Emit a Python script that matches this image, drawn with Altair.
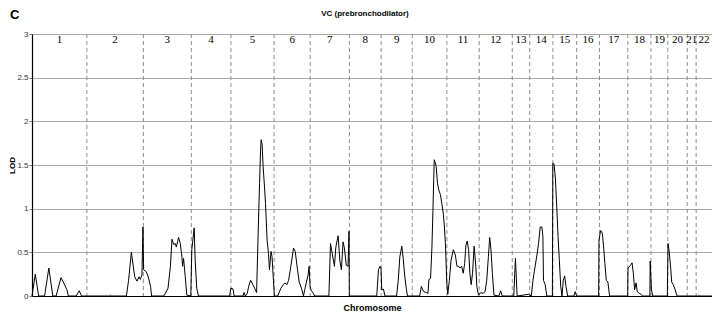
import altair as alt
import pandas as pd
import numpy as np

# Chromosome names and (estimated) lengths in cM, read off the panel widths
chrom_names = [str(i) for i in range(1, 23)]
chrom_lengths = [277, 285, 242, 200, 218, 182, 198, 160, 157, 175, 163, 167,
                 88, 117, 120, 115, 143, 117, 85, 98, 45, 80]

# Genome-wide position (cM) of each point of the LOD curve
pos = [0, 16.5, 33.5, 63.5, 85, 105, 121.5, 146.5, 160, 176.5, 183.5, 223.5, 238.5, 250,
       390, 396.5, 402.5, 476.5, 487.5, 501.5, 518.5, 530, 540, 546.5, 555, 560, 563.5, 576.5,
       586.5, 598.5, 603.5, 665, 673.5, 686.5, 698.5, 706.5, 715, 723.5, 728.5, 740, 748.5,
       756.5, 760, 765, 773.5, 781.5, 801.5, 806.5, 818.5, 823.5, 831.5, 840, 997.5, 1003.5,
       1015, 1020, 1065, 1070, 1076.5, 1086.5, 1093.5, 1103.5, 1115, 1123.5, 1133.5, 1140,
       1148.5, 1153.5, 1156.5, 1161.5, 1166.5, 1173.5, 1178.5, 1186.5, 1193.5, 1198.5, 1206.5,
       1211.5, 1218.5, 1223.5, 1240, 1256.5, 1268.5, 1276.5, 1286.5, 1295, 1306.5, 1320,
       1328.5, 1340, 1348.5, 1360, 1370, 1376.5, 1385, 1393.5, 1398.5, 1403.5, 1410, 1420,
       1426.5, 1498.5, 1506.5, 1515, 1526.5, 1533.5, 1545, 1553.5, 1561.5, 1570, 1576.5,
       1586.5, 1595, 1600, 1601.5, 1740, 1748.5, 1756.5, 1761.5, 1765, 1773.5, 1781.5, 1840,
       1848.5, 1856.5, 1866.5, 1873.5, 1881.5, 1890, 1895, 1956.5, 1965, 1976.5, 1990, 1998.5,
       2003.5, 2011.5, 2018.5, 2023.5, 2030, 2035, 2040, 2046.5, 2053.5, 2061.5, 2068.5,
       2076.5, 2081.5, 2086.5, 2093.5, 2098.5, 2106.5, 2115, 2126.5, 2136.5, 2145, 2153.5,
       2160, 2168.5, 2176.5, 2183.5, 2190, 2196.5, 2203.5, 2210, 2216.5, 2223.5, 2231.5, 2240,
       2245, 2253.5, 2265, 2276.5, 2286.5, 2295, 2303.5, 2310, 2316.5, 2323.5, 2331.5, 2356.5,
       2365, 2373.5, 2431.5, 2440, 2448.5, 2506.5, 2520, 2528.5, 2535, 2548.5, 2556.5, 2565,
       2573.5, 2578.5, 2581.5, 2590, 2598.5, 2626.5, 2628.5, 2635, 2641.5, 2648.5, 2655,
       2661.5, 2668.5, 2675, 2681.5, 2688.5, 2695, 2703.5, 2735, 2741.5, 2748.5, 2860, 2861.5,
       2870, 2878.5, 2885, 2891.5, 2898.5, 2906.5, 2915, 3006.5, 3008, 3020, 3028.5, 3035,
       3041.5, 3048.5, 3055, 3065, 3073.5, 3081.5, 3118.5, 3120, 3126.5, 3133.5, 3206.5, 3210,
       3215, 3223.5, 3228.5, 3236.5, 3245, 3251.5, 3256.5, 3360, 3365, 3370, 3431.5]

lod = [0, 0.25, 0, 0, 0.32, 0, 0, 0.21, 0.15, 0.07, 0, 0, 0.06, 0,
       0, 0.01, 0, 0, 0.18, 0.50, 0.22, 0.17, 0.22, 0.19, 0.24, 0.79, 0.30, 0.28,
       0.22, 0.11, 0, 0, 0.03, 0.09, 0.34, 0.65, 0.59, 0.60, 0.56, 0.67, 0.60,
       0.45, 0.34, 0.43, 0.22, 0.01, 0, 0.53, 0.78, 0.41, 0.09, 0, 0, 0.09,
       0.08, 0, 0, 0.04, 0, 0.03, 0.11, 0.18, 0.13, 0.09, 0.04, 0.60,
       1.29, 1.67, 1.79, 1.73, 1.48, 1.25, 1.06, 0.64, 0.49, 0.30, 0.51,
       0.45, 0.18, 0, 0, 0.09, 0.13, 0.15, 0.13, 0.18, 0.34, 0.55,
       0.51, 0.30, 0.16, 0.09, 0, 0.07, 0.16, 0.24, 0.34, 0.11, 0.06, 0.03,
       0, 0, 0.60, 0.49, 0.34, 0.56, 0.69, 0.41, 0.30, 0.62, 0.55,
       0.35, 0.34, 0.74, 0, 0, 0.30, 0.34, 0.32, 0.07, 0.08, 0, 0,
       0.18, 0.45, 0.57, 0.43, 0.22, 0.07, 0, 0, 0.11, 0.05, 0.04, 0.03,
       0.19, 0.20, 0.56, 0.98, 1.56, 1.53, 1.48, 1.29, 1.21, 1.16, 1.06,
       0.93, 0.79, 0.60, 0.15, 0.02, 0.18, 0.41, 0.53, 0.47, 0.34, 0.34,
       0.32, 0.34, 0.26, 0.37, 0.58, 0.63, 0.53, 0.26, 0.13, 0.26, 0.57, 0.34,
       0.11, 0.01, 0.04, 0.03, 0.05, 0.18, 0.45, 0.67, 0.53, 0.26, 0.01, 0,
       0.06, 0, 0, 0.43, 0, 0.02, 0, 0.18, 0.28, 0.47, 0.60, 0.79,
       0.79, 0.68, 0.18, 0.13, 0, 0, 1.52, 1.51, 1.35, 1.02, 0.68,
       0.41, 0.11, 0, 0.18, 0.23, 0.11, 0, 0, 0.05, 0, 0, 0.64,
       0.75, 0.72, 0.56, 0.37, 0.18, 0.16, 0, 0, 0.32, 0.35, 0.38, 0.26,
       0.07, 0.15, 0.05, 0.03, 0.02, 0, 0, 0.40, 0.07, 0, 0, 0.60,
       0.53, 0.32, 0.16, 0.13, 0.08, 0.03, 0, 0, 0.01, 0, 0]

y_ticks = [0, 0.5, 1, 1.5, 2, 2.5, 3]

starts = np.concatenate([[0], np.cumsum(chrom_lengths)[:-1]])
ends = np.cumsum(chrom_lengths)
total = float(ends[-1])

chrom_df = pd.DataFrame({
    "chrom": chrom_names,
    "start": starts,
    "mid": (starts + ends) / 2.0,
})
curve_df = pd.DataFrame({"pos": pos, "lod": lod})

x_scale = alt.Scale(domain=[0, total], nice=False, zero=False)
y_scale = alt.Scale(domain=[0, 3], nice=False)

base_x = alt.X("pos:Q", scale=x_scale,
               axis=alt.Axis(title="Chromosome", labels=False, ticks=False, grid=False,
                             domainColor="#000000", domainWidth=1.2,
                             titleFont="Liberation Sans", titleFontSize=9,
                             titleFontWeight="bold", titlePadding=7, titleColor="#000000"))
base_y = alt.Y("lod:Q", scale=y_scale,
               axis=alt.Axis(title="LOD", values=y_ticks, grid=True, gridColor="#a8a8a8",
                             gridWidth=1, tickSize=3, tickColor="#777777", labelPadding=1,
                             labelExpr="'' + datum.value",
                             labelFont="Liberation Sans", labelFontSize=8,
                             labelColor="#333333", domainColor="#000000", domainWidth=1.2,
                             titleFont="Liberation Sans", titleFontSize=8,
                             titleFontWeight="bold", titleX=-16, titleBaseline="bottom",
                             titleColor="#000000"))

line = alt.Chart(curve_df).mark_line(color="#000000", strokeWidth=1).encode(
    x=base_x, y=base_y
)

seps = alt.Chart(chrom_df[chrom_df["chrom"] != "1"]).mark_rule(
    color="#8c8c8c", strokeDash=[4, 3], strokeWidth=1
).encode(x=alt.X("start:Q", scale=x_scale))

labels = alt.Chart(chrom_df).mark_text(
    font="Liberation Serif", fontSize=11, baseline="middle", align="center", color="#000000"
).encode(
    x=alt.X("mid:Q", scale=x_scale),
    y=alt.datum(2.93, scale=y_scale),
    text="chrom:N",
)

title_df = pd.DataFrame({"t": ["VC (prebronchodilator)"]})
title = alt.Chart(title_df).mark_text(
    font="Liberation Sans", fontSize=8, fontWeight="bold", align="center",
    baseline="middle", color="#000000"
).encode(x=alt.value(333), y=alt.value(-20), text="t:N")

panel_df = pd.DataFrame({"t": ["C"]})
panel = alt.Chart(panel_df).mark_text(
    font="Liberation Sans", fontSize=13, fontWeight="bold", align="left",
    baseline="top", color="#000000"
).encode(x=alt.value(-22), y=alt.value(-25), text="t:N")

chart = alt.layer(seps, line, labels, title, panel).properties(
    width=680, height=262,
    autosize="none",
    padding={"left": 24, "top": 26, "right": 0, "bottom": 18},
).configure_view(stroke="#666666", strokeWidth=1)

chart.save("out.html", embed_options={"renderer": "svg", "actions": False})
